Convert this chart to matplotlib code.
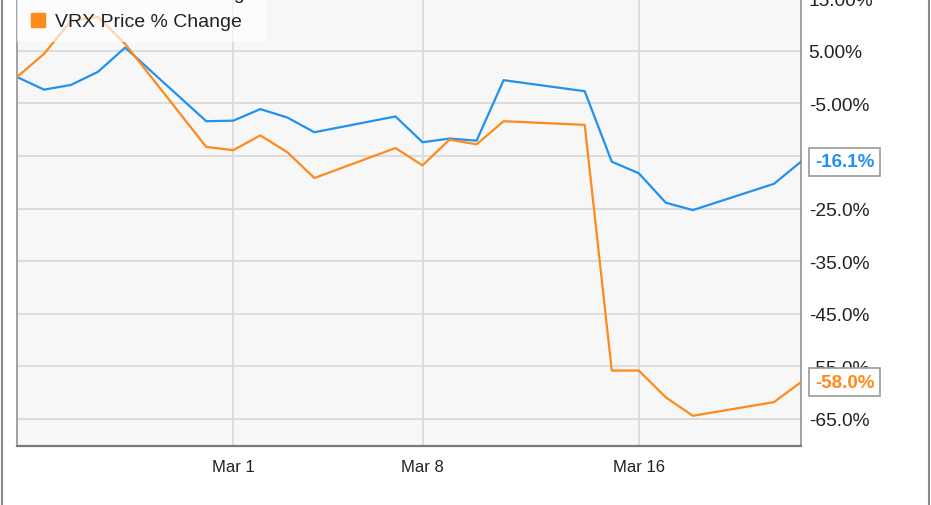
import matplotlib
matplotlib.use("Agg")
import matplotlib.pyplot as plt
import pandas as pd

# Trading days shown on the chart
dates = pd.to_datetime([
    "2016-02-22", "2016-02-23", "2016-02-24", "2016-02-25", "2016-02-26",
    "2016-02-29", "2016-03-01", "2016-03-02", "2016-03-03", "2016-03-04",
    "2016-03-07", "2016-03-08", "2016-03-09", "2016-03-10", "2016-03-11",
    "2016-03-14", "2016-03-15", "2016-03-16", "2016-03-17", "2016-03-18",
    "2016-03-21", "2016-03-22",
])

# % change series
endp_change = [0.0, -2.4, -1.5, 1.0, 5.6, -8.4, -8.3, -6.1, -7.7, -10.5,
               -7.5, -12.4, -11.7, -12.1, -0.6, -2.7, -16.1, -18.3, -23.9,
               -25.3, -20.3, -16.1]
vrx_change = [0.0, 4.4, 10.7, 11.4, 6.3, -13.3, -13.9, -11.1, -14.3, -19.2,
              -13.5, -16.8, -11.9, -12.8, -8.4, -9.1, -55.8, -55.8, -60.9,
              -64.4, -61.8, -58.0]

labels = ["ENDP Price % Change", "VRX Price % Change"]
colors = ["#2191ef", "#ff8a1c"]

# -15% label sits under the -16.1% callout in the original, so it is blank
y_ticks = [15, 5, -5, -15, -25, -35, -45, -55, -65]
y_tick_labels = ["15.00%", "5.00%", "-5.00%", "", "-25.0%",
                 "-35.0%", "-45.0%", "-55.0%", "-65.0%"]
x_ticks = pd.to_datetime(["2016-03-01", "2016-03-08", "2016-03-16"])
x_tick_labels = ["Mar 1", "Mar 8", "Mar 16"]

plt.rcParams["font.family"] = ["Liberation Sans", "DejaVu Sans"]

fig = plt.figure(figsize=(9.31, 5.06), dpi=100)
# axes reaches above the top edge, the original image is cropped there
ax = fig.add_axes([17 / 931, 58.7 / 506, 784 / 931, 474.5 / 506])
ax.set_facecolor("#f7f7f7")

ax.plot(dates, endp_change, color=colors[0], linewidth=1.6, label=labels[0], zorder=3)
ax.plot(dates, vrx_change, color=colors[1], linewidth=1.6, label=labels[1], zorder=3)

ax.set_xlim(dates[0], dates[-1])
ax.set_ylim(-70.2, 20)

ax.set_yticks(y_ticks)
ax.set_yticklabels(y_tick_labels)
ax.yaxis.tick_right()
ax.tick_params(axis="y", length=0, pad=5.5, labelsize=13.8, labelcolor="#222222")

ax.set_xticks(x_ticks)
ax.set_xticklabels(x_tick_labels)
ax.tick_params(axis="x", length=0, pad=9, labelsize=12, labelcolor="#222222")

ax.grid(True, color="#dcdcdc", linewidth=1.4)
ax.set_axisbelow(True)

for side in ["left", "right", "bottom"]:
    ax.spines[side].set_color("#9a9a9a")
    ax.spines[side].set_linewidth(1.3)
ax.spines["bottom"].set_color("#7a7a7a")
ax.spines["bottom"].set_linewidth(1.6)
ax.spines["top"].set_visible(False)

# legend with square markers
handles = [plt.Line2D([], [], marker="s", linestyle="", markersize=10, color=c) for c in colors]
leg = ax.legend(handles, labels, loc="upper left", bbox_to_anchor=(0.0, 0.998),
                fontsize=14, frameon=True, fancybox=False, handletextpad=0.35,
                labelspacing=0.55, borderpad=0.6, handlelength=1.0,
                borderaxespad=0.0)
leg.get_frame().set_facecolor("white")
leg.get_frame().set_alpha(0.65)
leg.get_frame().set_linewidth(0)
for txt in leg.get_texts():
    txt.set_color("#222222")

# end value callouts
for series, c in zip([endp_change, vrx_change], colors):
    ax.annotate(f"{series[-1]:.1f}%", xy=(dates[-1], series[-1]),
                xytext=(10, 0), textcoords="offset points",
                va="center", ha="left", fontsize=13.5, fontweight="bold",
                color=c, annotation_clip=False, zorder=5,
                bbox=dict(boxstyle="square,pad=0.3", facecolor="white",
                          edgecolor="#9a9a9a", linewidth=1.2))

# outer border lines of the image
fig.add_artist(plt.Line2D([2 / 931, 2 / 931], [0, 1], color="#8a8a8a", linewidth=1.5))
fig.add_artist(plt.Line2D([929 / 931, 929 / 931], [0, 1], color="#8a8a8a", linewidth=1.5))

fig.savefig("out.png", dpi=100)
